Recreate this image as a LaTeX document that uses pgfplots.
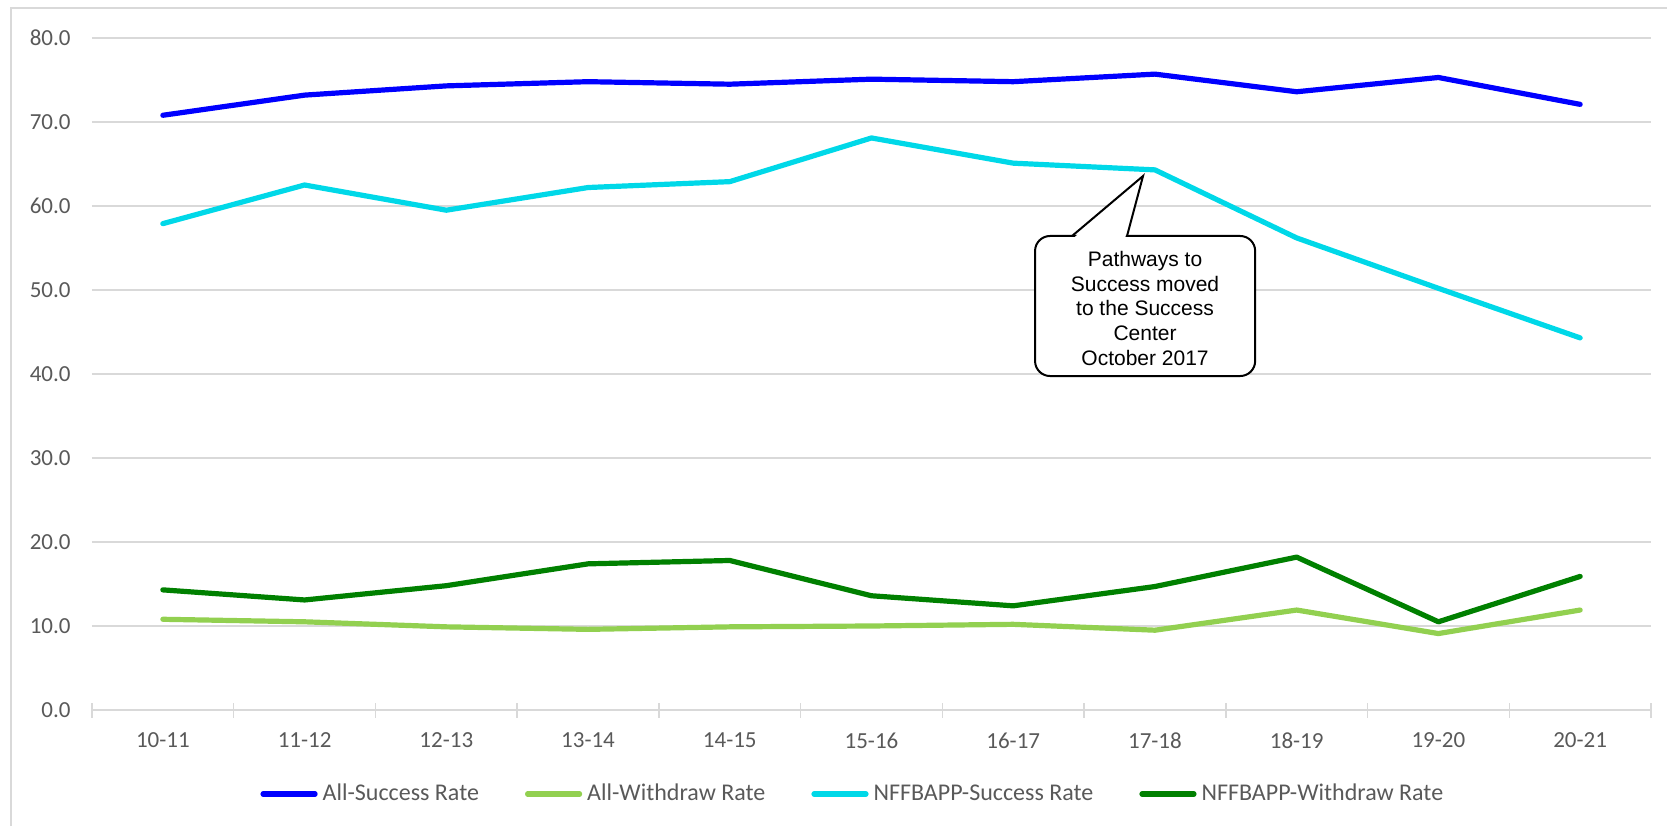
\documentclass[border=0pt]{standalone}
\usepackage{pgfplots}
\pgfplotsset{compat=1.18}
\usetikzlibrary{calc}
\usepackage{fontspec}
\setmainfont{Carlito}
\newfontfamily\arialfont{Liberation Sans}

\definecolor{allsucc}{HTML}{0000FF}
\definecolor{allwd}{HTML}{92D050}
\definecolor{nfsucc}{HTML}{00D8E8}
\definecolor{nfwd}{HTML}{008000}
\definecolor{gridgray}{HTML}{D9D9D9}
\definecolor{labgray}{HTML}{595959}

\begin{document}
\begin{tikzpicture}
\begin{axis}[
    width=779.5pt, height=336pt, scale only axis,
    xmin=-0.5, xmax=10.5, ymin=0, ymax=80,
    xtick={0,...,10},
    xticklabels={10-11,11-12,12-13,13-14,14-15,15-16,16-17,17-18,18-19,19-20,20-21},
    minor xtick={-0.5,0.5,...,10.5},
    ytick={0,10,...,80},
    xtick pos=bottom, ytick pos=left,
    tick align=center,
    major tick length=0pt, minor tick length=7.5pt,
    minor x tick style={draw=gridgray, line width=0.75pt},
    major tick style={draw=none},
    axis line style={draw=none},
    ymajorgrids, grid style={draw=gridgray, line width=0.75pt},
    tick label style={font=\fontsize{11.5}{13}\selectfont, text=labgray},
    yticklabel style={xshift=-7.2pt},
    xticklabel style={yshift=-7.7pt},
    yticklabel style={/pgf/number format/.cd, fixed, fixed zerofill, precision=1},
    /pgf/number format/assume math mode=true,
    legend columns=4,
    legend style={at={(axis description cs:0.1078,-0.125)}, anchor=west,
        draw=none, fill=none, inner sep=0pt,
        font=\fontsize{12}{14}\selectfont, text=labgray,
        nodes={inner xsep=0pt, inner ysep=1pt},
        /tikz/every odd column/.append style={column sep=2.5pt},
        /tikz/every even column/.append style={column sep=23pt}},
    legend image code/.code={\draw[#1, line cap=round] (0pt,0pt) -- (26pt,0pt);},
    every axis plot/.append style={line width=2.6pt, line join=round, line cap=round},
    clip=false,
]
\coordinate (O) at (rel axis cs:0,0);

% All - success rate
\addplot[allsucc] coordinates {
  (0,70.8) (1,73.2) (2,74.3) (3,74.8) (4,74.5) (5,75.1)
  (6,74.8) (7,75.7) (8,73.6) (9,75.3) (10,72.1)
};
\addlegendentry{All-Success Rate}

% All - withdraw rate
\addplot[allwd] coordinates {
  (0,10.8) (1,10.5) (2,9.9) (3,9.6) (4,9.9) (5,10.0)
  (6,10.2) (7,9.5) (8,11.9) (9,9.1) (10,11.9)
};
\addlegendentry{All-Withdraw Rate}

% NFFBAPP - success rate
\addplot[nfsucc] coordinates {
  (0,57.9) (1,62.5) (2,59.5) (3,62.2) (4,62.9) (5,68.1)
  (6,65.1) (7,64.3) (8,56.2) (9,50.2) (10,44.3)
};
\addlegendentry{NFFBAPP-Success Rate}

% NFFBAPP - withdraw rate
\addplot[nfwd] coordinates {
  (0,14.3) (1,13.1) (2,14.8) (3,17.4) (4,17.8) (5,13.6)
  (6,12.4) (7,14.7) (8,18.2) (9,10.5) (10,15.9)
};
\addlegendentry{NFFBAPP-Withdraw Rate}

% callout
\draw[rounded corners=7.5pt, line width=1pt, fill=white]
  (axis cs:6.154,39.76) rectangle (axis cs:7.707,56.43);
\fill[white] ([yshift=-0.8pt]axis cs:6.43,56.43) -- (axis cs:6.916,63.57)
  -- ([yshift=-0.8pt]axis cs:6.79,56.43) -- cycle;
\draw[line width=1pt, line join=miter] (axis cs:6.415,56.43) -- (axis cs:6.916,63.57)
  -- (axis cs:6.803,56.43);
\node[align=center, inner sep=0pt, font=\arialfont\fontsize{10.5}{12.3}\selectfont]
  at (axis cs:6.93,47.8)
  {Pathways to\\Success moved\\to the Success\\Center\\October 2017};
\end{axis}

% chart area border (top and left edges)
\draw[gridgray, line width=0.75pt]
  ($(O)+(-40.5pt,-58pt)$) -- ($(O)+(-40.5pt,351pt)$) -- ($(O)+(787.5pt,351pt)$);
\pgfresetboundingbox
\path[use as bounding box] ($(O)+(-46pt,-58pt)$) rectangle ($(O)+(787.5pt,355pt)$);
\end{tikzpicture}
\end{document}
